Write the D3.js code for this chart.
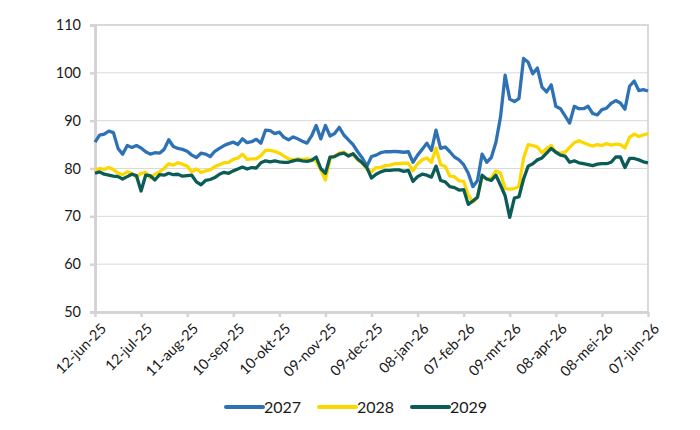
<!DOCTYPE html>
<html>
<head>
<meta charset="utf-8">
<script src="https://cdn.jsdelivr.net/npm/d3@7"></script>
<style>
  body { margin: 0; background: #fff; }
  text { font-family: Lato, "Open Sans", sans-serif; fill: #1a1a1a; }
</style>
</head>
<body>
<div id="chart"></div>
<script>
// observation dates (every third day)
const dates = [
  "2025-06-12","2025-06-15","2025-06-18","2025-06-21","2025-06-24","2025-06-27","2025-06-30",
  "2025-07-03","2025-07-06","2025-07-09","2025-07-12","2025-07-15","2025-07-18","2025-07-21","2025-07-24","2025-07-27","2025-07-30",
  "2025-08-02","2025-08-05","2025-08-08","2025-08-11","2025-08-14","2025-08-17","2025-08-20","2025-08-23","2025-08-26","2025-08-29",
  "2025-09-01","2025-09-04","2025-09-07","2025-09-10","2025-09-13","2025-09-16","2025-09-19","2025-09-22","2025-09-25","2025-09-28",
  "2025-10-01","2025-10-04","2025-10-07","2025-10-10","2025-10-13","2025-10-16","2025-10-19","2025-10-22","2025-10-25","2025-10-28","2025-10-31",
  "2025-11-03","2025-11-06","2025-11-09","2025-11-12","2025-11-15","2025-11-18","2025-11-21","2025-11-24","2025-11-27","2025-11-30",
  "2025-12-03","2025-12-06","2025-12-09","2025-12-12","2025-12-15","2025-12-18","2025-12-21","2025-12-24","2025-12-27","2025-12-30",
  "2026-01-02","2026-01-05","2026-01-08","2026-01-11","2026-01-14","2026-01-17","2026-01-20","2026-01-23","2026-01-26","2026-01-29",
  "2026-02-01","2026-02-04","2026-02-07","2026-02-10","2026-02-13","2026-02-16","2026-02-19","2026-02-22","2026-02-25","2026-02-28",
  "2026-03-03","2026-03-06","2026-03-09","2026-03-12","2026-03-15","2026-03-18","2026-03-21","2026-03-24","2026-03-27","2026-03-30",
  "2026-04-02","2026-04-05","2026-04-08","2026-04-11","2026-04-14","2026-04-17","2026-04-20","2026-04-23","2026-04-26","2026-04-29",
  "2026-05-02","2026-05-05","2026-05-08","2026-05-11","2026-05-14","2026-05-17","2026-05-20","2026-05-23","2026-05-26","2026-05-29",
  "2026-06-01","2026-06-04","2026-06-07"
];

const y2027 = [
  85.5,87,87.2,87.8,87.5,84.2,83,
  84.8,84.4,84.8,84.3,83.5,83,83.3,83.2,84,86,
  84.6,84.2,84,83.6,82.8,82.3,83.2,83,82.5,83.6,
  84.2,84.8,85.2,85.5,85,86.2,85.4,85.6,86.1,85.3,
  88,87.9,87.3,87.6,86.5,86,86.6,86.2,85.7,85.3,86.8,
  89,86.2,89,86.8,87.3,88.6,87,86,85,83.5,
  82.2,80.5,82.5,82.8,83.3,83.5,83.5,83.6,83.5,83.4,
  83.5,81.3,82.8,84,85.3,83.8,88,84.2,84.5,83.5,
  82.4,81.8,80.8,79,76.2,77.5,83,81.3,82.3,85.5,
  90.8,99.5,94.5,94,94.6,103,102.2,99.8,101,97,
  96,97.5,93,92.5,91,89.5,93,92.5,92.5,93,
  91.5,91.2,92.3,92.6,93.6,94.2,93.7,92.4,97.2,98.3,
  96.3,96.5,96.2
];

const y2028 = [
  79.7,80,79.8,80.2,79.8,79,78.7,
  79.3,79,78.2,79,79.2,78,78.8,79.3,80,81,
  80.7,81.2,80.9,80.5,79.3,79.9,79.2,79.5,79.7,80.4,
  80.8,81.2,81.3,81.9,82.2,83,81.9,82,82,82.7,
  83.8,83.8,83.6,83.2,82.6,82,81.8,82,81.9,82,81.9,
  81.5,79.7,77.6,82,82.6,83.2,83.4,82.8,82.9,81.8,
  81.2,79.8,79.3,80.2,80.2,80.6,80.7,81,81,81.1,
  81.1,79.5,81,81.8,82.2,81.3,84.3,80.8,80.4,78.4,
  78.3,77.4,77.3,74.5,73,74,78.3,77.8,78,79.5,
  79,75.8,75.7,75.8,76.3,82.2,85,84.8,84.5,83.3,
  84.2,84.8,83.4,83.2,83.4,84.4,85.4,85.8,85.4,85,
  84.7,85,84.8,85.2,84.9,85.1,85,84.3,86.5,87.2,
  86.7,87,87.3
];

const y2029 = [
  79,79.3,78.8,78.6,78.4,78.3,77.8,
  78.3,78.8,78.5,75.3,78.6,78.5,77.6,78.7,78.6,79,
  78.7,78.8,78.4,78.5,78.6,77.2,76.6,77.5,77.7,78.1,
  78.8,79.2,79,79.5,79.9,80.3,79.9,80.2,80.1,81.2,
  81.6,81.4,81.6,81.4,81.3,81.3,81.6,81.8,81.6,81.5,81.7,
  82.4,80,79,82.4,82.5,83,83.2,82.6,83.1,82,
  81.2,80.2,78,78.8,79.3,79.6,79.6,79.7,79.7,79.4,
  79.6,77.3,78.3,78.8,78.6,78.2,80.5,77.5,77.2,76.2,
  76,75.5,75.6,72.5,73.2,74,78.6,77.8,77.5,78.6,
  76.5,74.3,69.8,73.8,74.1,77.8,80.5,81,81.8,82.2,
  83.2,84.2,83.4,82.8,82.6,81.3,81.6,81.2,81,80.8,
  80.6,80.9,81,81,81.3,82.4,82.4,80.2,82.1,82.1,
  81.8,81.4,81.2
];

const seriesNames = ["2027", "2028", "2029"];
const seriesColors = ["#2e72b5", "#fcd700", "#0b5c57"];
const tickDates = [
  "2025-06-12","2025-07-12","2025-08-11","2025-09-10","2025-10-10","2025-11-09",
  "2025-12-09","2026-01-08","2026-02-07","2026-03-09","2026-04-08","2026-05-08","2026-06-07"
];
const monthNames = ["jan","feb","mrt","apr","mei","jun","jul","aug","sep","okt","nov","dec"];
const yTicks = [50, 60, 70, 80, 90, 100, 110];

const width = 700, height = 430;
const margin = {top: 25, right: 52, bottom: 118, left: 95};
const parse = d3.timeParse("%Y-%m-%d");

const svg = d3.select("#chart").append("svg")
  .attr("width", width)
  .attr("height", height);

const x = d3.scaleTime()
  .domain([parse(dates[0]), parse(dates[dates.length - 1])])
  .range([margin.left, width - margin.right]);
const y = d3.scaleLinear()
  .domain([50, 110])
  .range([height - margin.bottom, margin.top]);

// gridlines
svg.append("g")
  .selectAll("line")
  .data(yTicks.slice(1))
  .enter().append("line")
  .attr("x1", margin.left).attr("x2", width - margin.right)
  .attr("y1", d => y(d)).attr("y2", d => y(d))
  .attr("stroke", "#d9d9d9").attr("stroke-width", 1);

// plot border (top/right)
svg.append("path")
  .attr("d", `M${margin.left},${y(110)}H${width - margin.right}V${y(50)}`)
  .attr("fill", "none").attr("stroke", "#d9d9d9").attr("stroke-width", 2);

// y axis
const yAxis = svg.append("g")
  .attr("transform", `translate(${margin.left},0)`)
  .call(d3.axisLeft(y).tickValues(yTicks).tickSize(5).tickPadding(9));
yAxis.select(".domain").attr("stroke", "#d4d4d4").attr("stroke-width", 3);
yAxis.selectAll(".tick line").attr("stroke", "#d4d4d4").attr("stroke-width", 2.5);
yAxis.selectAll("text").style("font-size", "14.5px").attr("fill", "#1a1a1a");

// x axis
const fmt = d => {
  const dd = String(d.getDate()).padStart(2, "0");
  return `${dd}-${monthNames[d.getMonth()]}-${String(d.getFullYear()).slice(2)}`;
};
const xAxis = svg.append("g")
  .attr("transform", `translate(0,${y(50)})`)
  .call(d3.axisBottom(x).tickValues(tickDates.map(parse)).tickFormat(fmt).tickSize(5).tickSizeOuter(0));
xAxis.select(".domain").attr("stroke", "#d4d4d4").attr("stroke-width", 3);
xAxis.selectAll(".tick line").attr("stroke", "#d4d4d4").attr("stroke-width", 2.5);
xAxis.selectAll("text")
  .style("font-size", "14.5px")
  .attr("fill", "#1a1a1a")
  .attr("text-anchor", "end")
  .attr("dx", "0").attr("dy", "0")
  .attr("transform", "translate(6,12) rotate(-45)");

// lines
const allSeries = [y2027, y2028, y2029];
const line = d3.line()
  .x((d, i) => x(parse(dates[i])))
  .y(d => y(d));

svg.append("g")
  .selectAll("path")
  .data(allSeries)
  .enter().append("path")
  .attr("d", line)
  .attr("fill", "none")
  .attr("stroke", (d, i) => seriesColors[i])
  .attr("stroke-width", 3.3)
  .attr("stroke-linejoin", "round");

// legend
const legendX = [226, 319, 412];
const legend = svg.append("g").attr("transform", "translate(0,407)");
const items = legend.selectAll("g")
  .data(seriesNames)
  .enter().append("g")
  .attr("transform", (d, i) => `translate(${legendX[i]},0)`);
items.append("line")
  .attr("x1", 0).attr("x2", 37).attr("y1", 0).attr("y2", 0)
  .attr("stroke", (d, i) => seriesColors[i])
  .attr("stroke-width", 4).attr("stroke-linecap", "round");
items.append("text")
  .attr("x", 38).attr("y", 5.5)
  .style("font-size", "16px")
  .text(d => d);
</script>
</body>
</html>
